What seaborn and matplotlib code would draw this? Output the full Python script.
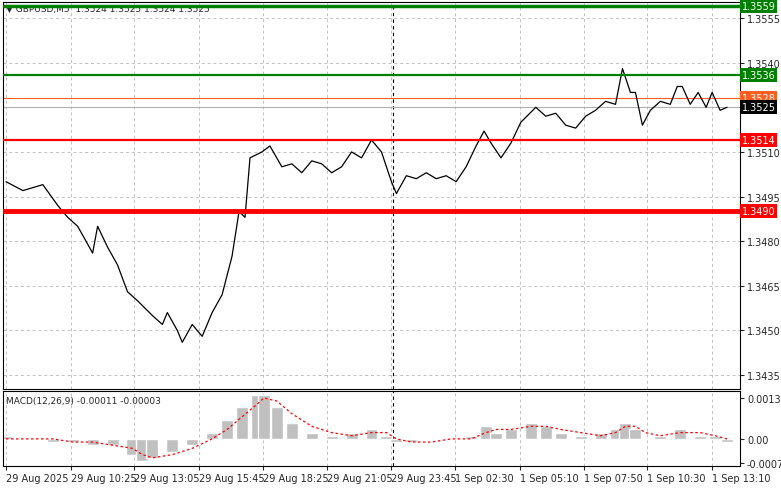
import matplotlib
matplotlib.use("Agg")
import matplotlib.pyplot as plt
import seaborn as sns
import numpy as np
import pandas as pd

sns.set_style("white")
plt.rcParams['font.family'] = ['DejaVu Sans']

px = [3,20,40,55,65,75,90,95,105,115,125,135,150,160,165,175,180,190,200,210,220,230,237,243,248,260,268,280,290,300,310,320,330,340,350,360,370,380,390,395,405,415,425,435,445,455,465,475,483,490,500,510,520,535,545,555,565,575,585,595,605,615,622,630,635,642,650,660,670,677,682,690,698,706,712,720,727]
price = [1.3500,1.3497,1.3499,1.3492,1.3488,1.3485,1.3476,1.3485,1.3478,1.3472,1.3463,1.3460,1.3455,1.3452,1.3456,1.3450,1.3446,1.3452,1.3448,1.3456,1.3462,1.3475,1.3490,1.3488,1.3508,1.3510,1.3512,1.3505,1.3506,1.3503,1.3507,1.3506,1.3503,1.3505,1.3510,1.3508,1.3514,1.3510,1.3500,1.3496,1.3502,1.3501,1.3503,1.3501,1.3502,1.3500,1.3505,1.3512,1.3517,1.3513,1.3508,1.3513,1.3520,1.3525,1.3522,1.3523,1.3519,1.3518,1.3522,1.3524,1.3527,1.3526,1.3538,1.3530,1.3530,1.3519,1.3524,1.3527,1.3526,1.3532,1.3532,1.3526,1.3530,1.3525,1.3530,1.3524,1.3525]

mx = [3,30,50,70,90,110,130,140,150,170,190,210,225,240,255,262,275,290,310,330,350,370,385,395,410,430,450,470,485,495,510,530,545,560,580,600,615,625,635,645,660,680,700,715,727]
macd = [0.0001,0.0,-0.0001,-0.0001,-0.0002,-0.0002,-0.0005,-0.0007,-0.0006,-0.0004,-0.0002,0.0002,0.0006,0.0010,0.0014,0.0014,0.0010,0.0005,0.0002,0.0001,0.0002,0.0003,0.0001,-0.0001,-0.0001,0.0,0.0,0.0001,0.0004,0.0002,0.0003,0.0005,0.0004,0.0002,0.0001,0.0002,0.0003,0.0005,0.0003,0.0,0.0001,0.0003,0.0001,0.0001,-0.0001]
signal = [0.0,0.0,0.0,-0.0001,-0.0001,-0.0002,-0.0003,-0.0005,-0.0006,-0.0005,-0.0003,0.0,0.0003,0.0007,0.0011,0.0013,0.0012,0.0008,0.0004,0.0002,0.0001,0.0002,0.0002,0.0,-0.0001,-0.0001,0.0,0.0,0.0002,0.0003,0.0003,0.0004,0.0004,0.0003,0.0002,0.0001,0.0002,0.0004,0.0004,0.0002,0.0001,0.0002,0.0002,0.0001,0.0]

tick_px = [3,68,132,197,261,325,390,454,519,583,647,712]
tick_labels = ["29 Aug 2025","29 Aug 10:25","29 Aug 13:05","29 Aug 15:45","29 Aug 18:25","29 Aug 21:05","29 Aug 23:45","1 Sep 02:30","1 Sep 05:10","1 Sep 07:50","1 Sep 10:30","1 Sep 13:10"]
price_ticks = [1.3555,1.3540,1.3510,1.3495,1.3480,1.3465,1.3450,1.3435]
levels = [(1.3559,"1.3559","#008000",2.5),(1.3536,"1.3536","#008000",1.6),(1.3514,"1.3514","#ff0000",1.6),(1.3490,"1.3490","#ff0000",3.5)]

W, H = 781, 489
fig = plt.figure(figsize=(W/100, H/100), dpi=100)
fig.patch.set_facecolor("white")
L, R = 3/W, 740/W
ax = fig.add_axes([L, 1-390/H, R-L, (390-3)/H])
ax2 = fig.add_axes([L, 1-467/H, R-L, (467-392)/H])

XMAX = 740
for a in (ax, ax2):
    a.set_xlim(0, XMAX)
    for s in a.spines.values():
        s.set_color("black"); s.set_linewidth(0.8)
    for t in tick_px:
        a.axvline(t, color="#c0c0c0", ls=(0,(3,3)), lw=0.7, zorder=0)
    a.axvline(392, color="black", ls=(0,(3,3)), lw=0.8, zorder=1)
    a.yaxis.tick_right()
    a.tick_params(axis="y", labelsize=7, length=3, pad=2, direction="out", right=True)

ymin, ymax = 1.34303, 1.35604
ax.set_ylim(ymin, ymax)
ax.set_yticks(price_ticks)
ax.set_yticklabels([f"{v:.4f}" for v in price_ticks])
for v in price_ticks:
    ax.axhline(v, color="#c0c0c0", ls=(0,(3,3)), lw=0.7, zorder=0)
ax.set_xticks([])

df = pd.DataFrame({"x": px, "price": price})
sns.lineplot(data=df, x="x", y="price", ax=ax, color="black", lw=0.9, zorder=3)
ax.set_xlabel(""); ax.set_ylabel("")

ax.axhline(1.3528, color="#ff6020", lw=0.8, zorder=2)
ax.axhline(1.3525, color="#b0b0b0", lw=0.8, zorder=2)
for v, lab, c, lw in levels:
    ax.axhline(v, color=c, lw=lw, zorder=4)
def tag(v, lab, fc, tc="white"):
    ax.text(1.002, (v-ymin)/(ymax-ymin), lab, transform=ax.transAxes, fontsize=7,
            color=tc, va="center", ha="left", clip_on=False,
            bbox=dict(boxstyle="square,pad=0.2", fc=fc, ec="none"))
for v, lab, c, lw in levels:
    tag(v, lab, c)
tag(1.3528, "1.3528", "#ff6020")
tag(1.3525, "1.3525", "black")
ax.text(0.004, 0.995, "▼ GBPUSD,M5  1.3524 1.3525 1.3524 1.3525", transform=ax.transAxes,
        fontsize=6.5, va="top", ha="left")

# MACD
ax2.set_ylim(-0.00086, 0.00152)
ax2.bar(mx, macd, width=12, color="#c0c0c0", zorder=2)
sdf = pd.DataFrame({"x": mx, "signal": signal})
sns.lineplot(data=sdf, x="x", y="signal", ax=ax2, color="red", lw=0.9, ls=(0,(2,2)), zorder=3)
ax2.set_xlabel(""); ax2.set_ylabel("")
ax2.set_yticks([0.0013, 0.0, -0.00077])
ax2.set_yticklabels(["0.0013", "0.00", "-0.00077"])
ax2.set_xticks(tick_px)
ax2.set_xticklabels(tick_labels, ha="left", fontsize=7)
ax2.tick_params(axis="x", length=3, pad=2, bottom=True)
ax2.text(0.004, 0.93, "MACD(12,26,9) -0.00011 -0.00003", transform=ax2.transAxes,
         fontsize=6.5, va="top", ha="left")

fig.savefig("out.png", dpi=100)
